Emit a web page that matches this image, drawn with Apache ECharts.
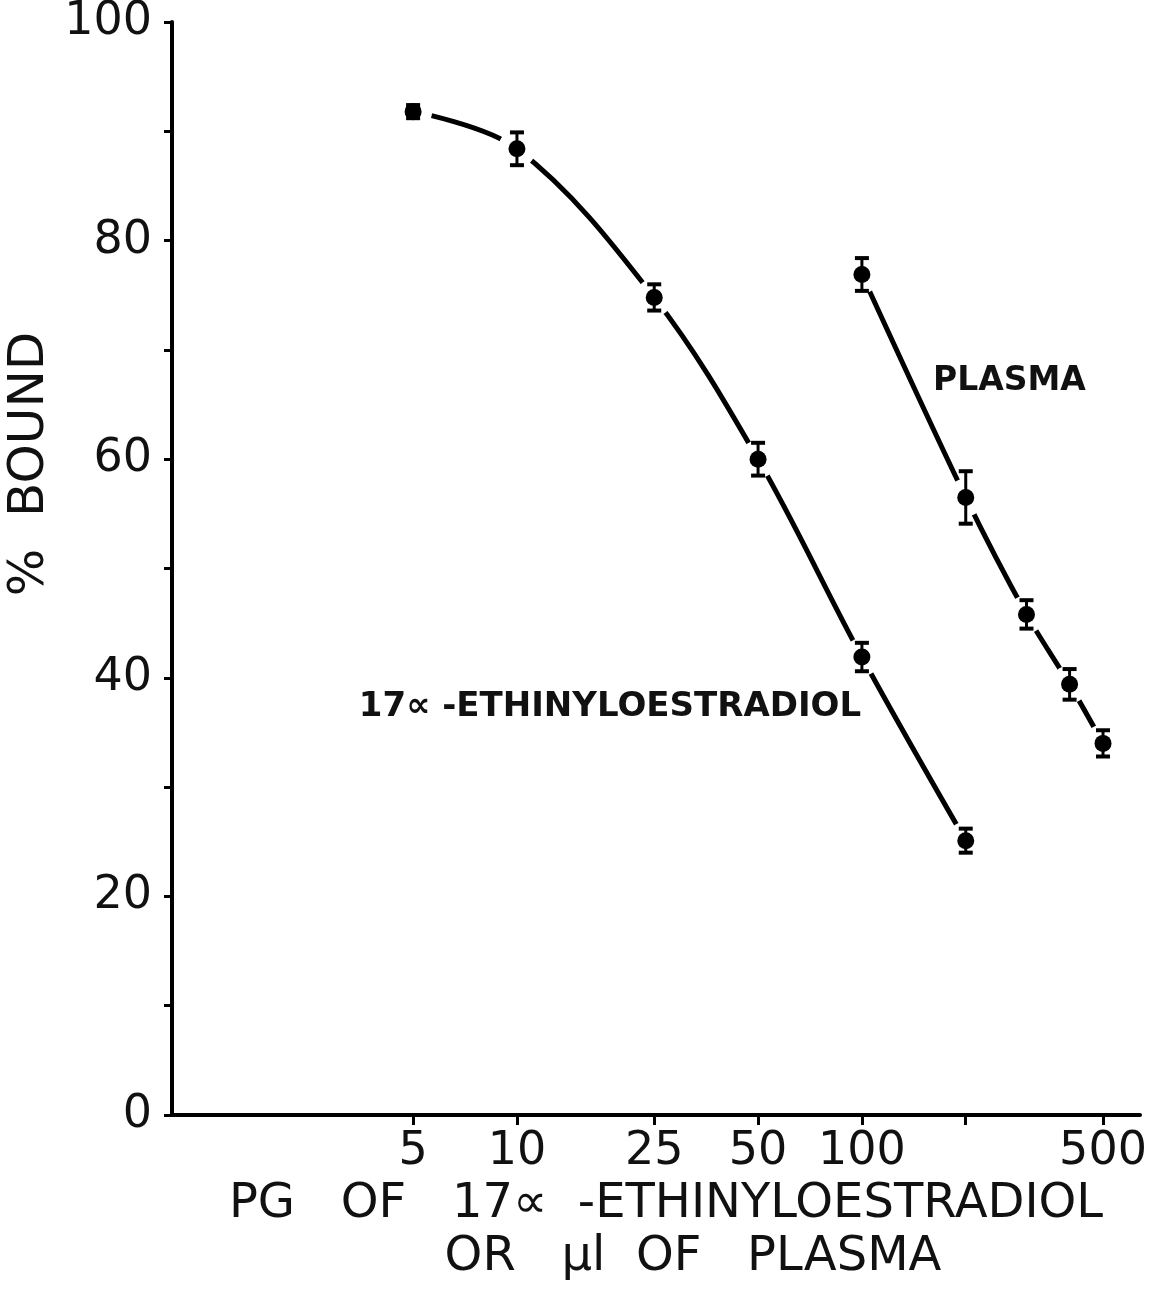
<!DOCTYPE html>
<html>
<head>
<meta charset="utf-8">
<script src="https://cdn.jsdelivr.net/npm/echarts@6/dist/echarts.min.js"></script>
<style>html,body{margin:0;padding:0;background:#fff}#c{width:1174px;height:1291px}</style>
</head>
<body>
<div id="c"></div>
<script>
// ---- data ----
const xTicks = [5, 10, 25, 50, 100, 200, 500];
const xTickLabels = [5, 10, 25, 50, 100, 500];
const ethDose = [5, 10, 25, 50, 100, 200];
const ethBound = [91.8, 88.4, 74.8, 60.0, 41.9, 25.1];
const ethErr = [0.6, 1.5, 1.2, 1.5, 1.3, 1.1];
const plasmaVol = [100, 200, 300, 400, 500];
const plasmaBound = [76.9, 56.5, 45.8, 39.4, 34.0];
const plasmaErr = [1.5, 2.4, 1.3, 1.4, 1.2];
const yLabelValues = [0, 20, 40, 60, 80, 100];

const FONT = 'DejaVu Sans';
const eth = ethDose.map((d, i) => [d, ethBound[i], ethErr[i]]);
const pla = plasmaVol.map((d, i) => [d, plasmaBound[i], plasmaErr[i]]);
const allPts = eth.concat(pla);

function errItem(params, api) {
  const x = api.value(0), y = api.value(1), e = api.value(2);
  const t = api.coord([x, y + e]);
  const b = api.coord([x, y - e]);
  const hw = 7;
  return {
    type: 'group',
    children: [
      { type: 'line', shape: { x1: t[0], y1: t[1], x2: b[0], y2: b[1] }, style: { stroke: '#000', lineWidth: 3 } },
      { type: 'line', shape: { x1: t[0] - hw, y1: t[1], x2: t[0] + hw, y2: t[1] }, style: { stroke: '#000', lineWidth: 4 } },
      { type: 'line', shape: { x1: b[0] - hw, y1: b[1], x2: b[0] + hw, y2: b[1] }, style: { stroke: '#000', lineWidth: 4 } }
    ]
  };
}

const chart = echarts.init(document.getElementById('c'), null, { renderer: 'canvas' });
chart.setOption({
  backgroundColor: '#fff',
  animation: false,
  grid: { left: 172, right: 34, top: 22, bottom: 176, containLabel: false, outerBoundsMode: 'none' },
  xAxis: {
    type: 'log', logBase: 10, min: 1, max: 640,
    axisLine: { lineStyle: { color: '#000', width: 4 } },
    axisTick: { show: true, inside: false, length: 10, lineStyle: { color: '#000', width: 3 }, customValues: xTicks },
    axisLabel: { customValues: xTickLabels, color: '#111', fontFamily: FONT, fontSize: 46, margin: 14 },
    splitLine: { show: false }, minorTick: { show: false }
  },
  yAxis: {
    type: 'value', min: 0, max: 100, interval: 10,
    axisLine: { show: true, lineStyle: { color: '#000', width: 4 } },
    axisTick: { show: true, length: 8, lineStyle: { color: '#000', width: 3 } },
    axisLabel: {
      color: '#111', fontFamily: FONT, fontSize: 46, margin: 20,
      formatter: v => (yLabelValues.indexOf(v) >= 0 ? String(v) : '')
    },
    splitLine: { show: false }
  },
  series: [
    { type: 'line', data: eth.map(p => [p[0], p[1]]), smooth: 0.35, symbol: 'none', z: 2,
      lineStyle: { color: '#000', width: 5 } },
    { type: 'line', data: pla.map(p => [p[0], p[1]]), smooth: 0.3, symbol: 'none', z: 2,
      lineStyle: { color: '#000', width: 5 } },
    { type: 'scatter', data: allPts.map(p => [p[0], p[1]]), symbol: 'circle', symbolSize: 38, z: 3,
      itemStyle: { color: '#fff', opacity: 1 }, silent: true },
    { type: 'scatter', data: allPts.map(p => [p[0], p[1]]), symbol: 'circle', symbolSize: 17, z: 4,
      itemStyle: { color: '#000', opacity: 1 } },
    { type: 'custom', data: allPts, renderItem: errItem, z: 5 }
  ],
  graphic: [
    { type: 'text', x: 30, y: 464, rotation: Math.PI / 2,
      style: { text: '%  BOUND', font: '50px "DejaVu Sans"', fill: '#111', textAlign: 'center', textVerticalAlign: 'middle' } },
    { type: 'text', x: 933, y: 381,
      style: { text: 'PLASMA', font: 'bold 33px "DejaVu Sans"', fill: '#111', textAlign: 'left', textVerticalAlign: 'middle' } },
    { type: 'text', x: 610, y: 707,
      style: { text: '17\u221D -ETHINYLOESTRADIOL', font: 'bold 34px "DejaVu Sans"', fill: '#111', textAlign: 'center', textVerticalAlign: 'middle' } },
    { type: 'text', x: 666, y: 1205,
      style: { text: 'PG   OF   17\u221D  -ETHINYLOESTRADIOL', font: '48px "DejaVu Sans"', fill: '#111', textAlign: 'center', textVerticalAlign: 'middle' } },
    { type: 'text', x: 693, y: 1258,
      style: { text: 'OR   \u00B5l  OF   PLASMA', font: '48px "DejaVu Sans"', fill: '#111', textAlign: 'center', textVerticalAlign: 'middle' } }
  ]
});
</script>
</body>
</html>
